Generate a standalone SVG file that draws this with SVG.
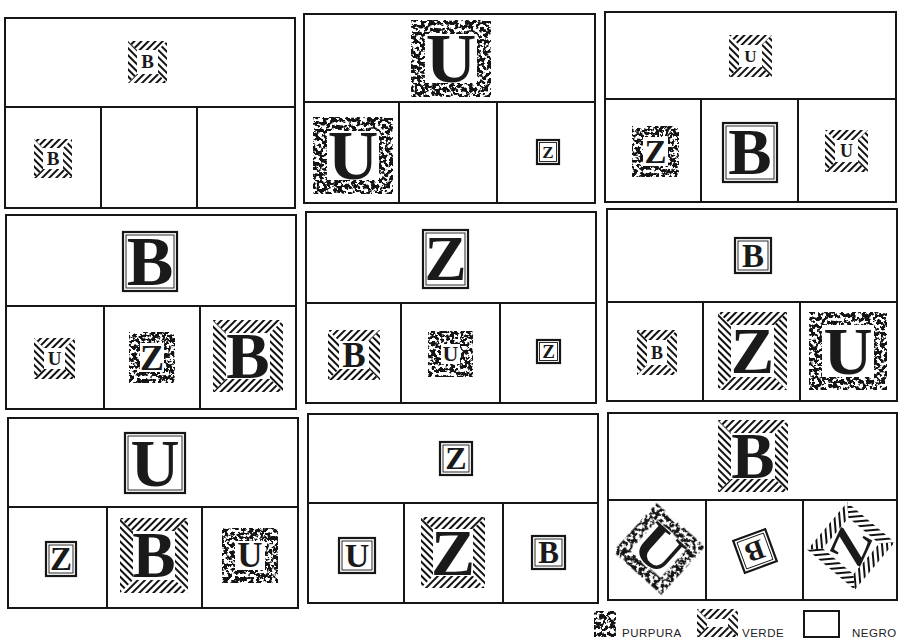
<svg xmlns="http://www.w3.org/2000/svg" width="900" height="641" viewBox="0 0 900 641">
<defs>
<pattern id="hA" width="5" height="5" patternUnits="userSpaceOnUse" patternTransform="rotate(45)"><rect width="2" height="5" fill="#111"/></pattern>
<pattern id="hB" width="5" height="5" patternUnits="userSpaceOnUse" patternTransform="rotate(-45)"><rect width="2" height="5" fill="#111"/></pattern>
<filter id="spk" x="-5%" y="-5%" width="110%" height="110%" color-interpolation-filters="sRGB">
<feTurbulence type="fractalNoise" baseFrequency="0.27" numOctaves="3" seed="7" result="n"/>
<feColorMatrix in="n" type="matrix" values="0 0 0 0 0.08  0 0 0 0 0.08  0 0 0 0 0.08  14 0 0 0 -6.3" result="t"/>
<feComposite in="t" in2="SourceGraphic" operator="in"/>
</filter>
</defs>
<style>
.pb{fill:none;stroke:#161616;stroke-width:2}
.ha{fill:url(#hA)}
.hb{fill:url(#hB)}
.pk{fill:#000;fill-rule:evenodd;filter:url(#spk)}
.ko{fill:#fff;stroke:#161616;stroke-width:2.2}
.ki{fill:none;stroke:#161616;stroke-width:0.9}
.L{font-family:'Liberation Serif','DejaVu Serif',serif;font-weight:bold;fill:#1a1a1a;text-anchor:middle}
.lg{font-family:'Liberation Sans','DejaVu Sans',sans-serif;font-size:11.5px;letter-spacing:0.5px;fill:#222}
</style>
<rect width="900" height="641" fill="#fff"/>

<g id="panels">
<g id="panel1"><rect class="pb" x="5" y="18" width="290" height="190"/><path class="pb" d="M5 107H295M101 107V208M197 107V208"/></g>
<g id="panel2"><rect class="pb" x="304" y="14" width="291" height="189"/><path class="pb" d="M304 102H595M399 102V203M497 102V203"/></g>
<g id="panel3"><rect class="pb" x="605" y="12" width="291" height="190"/><path class="pb" d="M605 99H896M701 99V202M798 99V202"/></g>
<g id="panel4"><rect class="pb" x="6" y="215" width="290" height="194"/><path class="pb" d="M6 306H296M104 306V409M200 306V409"/></g>
<g id="panel5"><rect class="pb" x="306" y="212" width="290" height="191"/><path class="pb" d="M306 303H596M401 303V403M500 303V403"/></g>
<g id="panel6"><rect class="pb" x="607" y="209" width="290" height="192"/><path class="pb" d="M607 302H897M703 302V401M800 302V401"/></g>
<g id="panel7"><rect class="pb" x="8" y="418" width="290" height="190"/><path class="pb" d="M8 507H298M107 507V608M202 507V608"/></g>
<g id="panel8"><rect class="pb" x="308" y="414" width="290" height="189"/><path class="pb" d="M308 503H598M404 503V603M503 503V603"/></g>
<g id="panel9"><rect class="pb" x="608" y="413" width="289" height="187"/><path class="pb" d="M608 500H897M706 500V600M803 500V600"/></g>
</g>

<!-- Panel 1 -->
<g id="p1-top" transform="translate(147.5,62)">
<polygon class="ha" points="-19.5,-21 19.5,-21 10.5,-12 -10.5,-12"/><polygon class="ha" points="-19.5,21 19.5,21 10.5,12 -10.5,12"/>
<polygon class="hb" points="-19.5,-21 -10.5,-12 -10.5,12 -19.5,21"/><polygon class="hb" points="19.5,-21 10.5,-12 10.5,12 19.5,21"/>
<text class="L" x="0" y="6.3" font-size="19">B</text></g>
<g id="p1-b1" transform="translate(53,158.5)">
<polygon class="ha" points="-19,-19.5 19,-19.5 10,-10.5 -10,-10.5"/><polygon class="ha" points="-19,19.5 19,19.5 10,10.5 -10,10.5"/>
<polygon class="hb" points="-19,-19.5 -10,-10.5 -10,10.5 -19,19.5"/><polygon class="hb" points="19,-19.5 10,-10.5 10,10.5 19,19.5"/>
<text class="L" x="0" y="6.3" font-size="19">B</text></g>

<!-- Panel 2 -->
<g id="p2-top" transform="translate(451,58.5)">
<path class="pk" d="M-40 -38.5H40V38.5H-40ZM-26 -24.5V24.5H26V-24.5Z"/>
<text class="L" x="0" y="23" font-size="70">U</text></g>
<g id="p2-b1" transform="translate(353,155.5)">
<path class="pk" d="M-40 -38.5H40V38.5H-40ZM-26 -24.5V24.5H26V-24.5Z"/>
<text class="L" x="0" y="23" font-size="70">U</text></g>
<g id="p2-b3" transform="translate(548,152)">
<rect class="ko" x="-11" y="-12" width="22" height="24"/><rect class="ki" x="-8.5" y="-9.5" width="17" height="19"/>
<text class="L" x="0" y="5.6" font-size="17">Z</text></g>

<!-- Panel 3 -->
<g id="p3-top" transform="translate(750.5,56)">
<polygon class="ha" points="-21.5,-21 21.5,-21 11.5,-11 -11.5,-11"/><polygon class="ha" points="-21.5,21 21.5,21 11.5,11 -11.5,11"/>
<polygon class="hb" points="-21.5,-21 -11.5,-11 -11.5,11 -21.5,21"/><polygon class="hb" points="21.5,-21 11.5,-11 11.5,11 21.5,21"/>
<text class="L" x="0" y="5.6" font-size="17">U</text></g>
<g id="p3-b1" transform="translate(655.5,151.5)">
<path class="pk" d="M-23.5 -25.5H23.5V25.5H-23.5ZM-12.5 -14.5V14.5H12.5V-14.5Z"/>
<text class="L" x="0" y="11" font-size="33">Z</text></g>
<g id="p3-b2" transform="translate(750,152.5)">
<rect class="ko" x="-27" y="-29.5" width="54" height="59"/><rect class="ki" x="-24" y="-26.5" width="48" height="53"/>
<text class="L" x="0" y="21.5" font-size="65">B</text></g>
<g id="p3-b3" transform="translate(846.5,151)">
<polygon class="ha" points="-21.5,-21 21.5,-21 11.5,-11 -11.5,-11"/><polygon class="ha" points="-21.5,21 21.5,21 11.5,11 -11.5,11"/>
<polygon class="hb" points="-21.5,-21 -11.5,-11 -11.5,11 -21.5,21"/><polygon class="hb" points="21.5,-21 11.5,-11 11.5,11 21.5,21"/>
<text class="L" x="0" y="6" font-size="18">U</text></g>

<!-- Panel 4 -->
<g id="p4-top" transform="translate(150,261.5)">
<rect class="ko" x="-27" y="-29.5" width="54" height="59"/><rect class="ki" x="-24" y="-26.5" width="48" height="53"/>
<text class="L" x="0" y="23" font-size="70">B</text></g>
<g id="p4-b1" transform="translate(54.5,358.5)">
<polygon class="ha" points="-20.5,-20.5 20.5,-20.5 10.5,-10.5 -10.5,-10.5"/><polygon class="ha" points="-20.5,20.5 20.5,20.5 10.5,10.5 -10.5,10.5"/>
<polygon class="hb" points="-20.5,-20.5 -10.5,-10.5 -10.5,10.5 -20.5,20.5"/><polygon class="hb" points="20.5,-20.5 10.5,-10.5 10.5,10.5 20.5,20.5"/>
<text class="L" x="0" y="6.3" font-size="19">U</text></g>
<g id="p4-b2" transform="translate(152,357.5)">
<path class="pk" d="M-23 -25.5H23V25.5H-23ZM-12 -14.5V14.5H12V-14.5Z"/>
<text class="L" x="0" y="12" font-size="36">Z</text></g>
<g id="p4-b3" transform="translate(248,356)">
<polygon class="ha" points="-35,-36 35,-36 22,-23 -22,-23"/><polygon class="ha" points="-35,36 35,36 22,23 -22,23"/>
<polygon class="hb" points="-35,-36 -22,-23 -22,23 -35,36"/><polygon class="hb" points="35,-36 22,-23 22,23 35,36"/>
<text class="L" x="0" y="21.5" font-size="65">B</text></g>

<!-- Panel 5 -->
<g id="p5-top" transform="translate(445.5,259)">
<rect class="ko" x="-22.5" y="-29" width="45" height="58"/><rect class="ki" x="-19.5" y="-26" width="39" height="52"/>
<text class="L" x="0" y="21" font-size="63">Z</text></g>
<g id="p5-b1" transform="translate(354,355)">
<polygon class="ha" points="-26,-25 26,-25 15,-14 -15,-14"/><polygon class="ha" points="-26,25 26,25 15,14 -15,14"/>
<polygon class="hb" points="-26,-25 -15,-14 -15,14 -26,25"/><polygon class="hb" points="26,-25 15,-14 15,14 26,25"/>
<text class="L" x="0" y="11.5" font-size="35">B</text></g>
<g id="p5-b2" transform="translate(450.5,354)">
<path class="pk" d="M-22.5 -23H22.5V23H-22.5ZM-9.5 -10V10H9.5V-10Z"/>
<text class="L" x="0" y="7.3" font-size="22">U</text></g>
<g id="p5-b3" transform="translate(548.5,351.5)">
<rect class="ko" x="-11.5" y="-11.5" width="23" height="23"/><rect class="ki" x="-9" y="-9" width="18" height="18"/>
<text class="L" x="0" y="6.2" font-size="19">Z</text></g>

<!-- Panel 6 -->
<g id="p6-top" transform="translate(753,255.5)">
<rect class="ko" x="-18" y="-17.5" width="36" height="35"/><rect class="ki" x="-15" y="-14.5" width="30" height="29"/>
<text class="L" x="0" y="11" font-size="33">B</text></g>
<g id="p6-b1" transform="translate(657,352.5)">
<polygon class="ha" points="-20,-22.5 20,-22.5 10,-12.5 -10,-12.5"/><polygon class="ha" points="-20,22.5 20,22.5 10,12.5 -10,12.5"/>
<polygon class="hb" points="-20,-22.5 -10,-12.5 -10,12.5 -20,22.5"/><polygon class="hb" points="20,-22.5 10,-12.5 10,12.5 20,22.5"/>
<text class="L" x="0" y="6" font-size="18">B</text></g>
<g id="p6-b2" transform="translate(752.5,351)">
<polygon class="ha" points="-34.5,-39 34.5,-39 21.5,-26 -21.5,-26"/><polygon class="ha" points="-34.5,39 34.5,39 21.5,26 -21.5,26"/>
<polygon class="hb" points="-34.5,-39 -21.5,-26 -21.5,26 -34.5,39"/><polygon class="hb" points="34.5,-39 21.5,-26 21.5,26 34.5,39"/>
<text class="L" x="0" y="21.5" font-size="65">Z</text></g>
<g id="p6-b3" transform="translate(848,351)">
<path class="pk" d="M-39 -39H39V39H-39ZM-26 -26V26H26V-26Z"/>
<text class="L" x="0" y="22.5" font-size="68">U</text></g>

<!-- Panel 7 -->
<g id="p7-top" transform="translate(155,463)">
<rect class="ko" x="-30" y="-30" width="60" height="60"/><rect class="ki" x="-27" y="-27" width="54" height="54"/>
<text class="L" x="0" y="22.5" font-size="68">U</text></g>
<g id="p7-b1" transform="translate(61,559)">
<rect class="ko" x="-15" y="-17" width="30" height="34"/><rect class="ki" x="-12" y="-14" width="24" height="28"/>
<text class="L" x="0" y="11" font-size="33">Z</text></g>
<g id="p7-b2" transform="translate(154,555.5)">
<polygon class="ha" points="-34,-37.5 34,-37.5 21,-24.5 -21,-24.5"/><polygon class="ha" points="-34,37.5 34,37.5 21,24.5 -21,24.5"/>
<polygon class="hb" points="-34,-37.5 -21,-24.5 -21,24.5 -34,37.5"/><polygon class="hb" points="34,-37.5 21,-24.5 21,24.5 34,37.5"/>
<text class="L" x="0" y="21.5" font-size="65">B</text></g>
<g id="p7-b3" transform="translate(250,555.5)">
<path class="pk" d="M-28 -27.5H28V27.5H-28ZM-15 -14.5V14.5H15V-14.5Z"/>
<text class="L" x="0" y="11.5" font-size="35">U</text></g>

<!-- Panel 8 -->
<g id="p8-top" transform="translate(456,458.5)">
<rect class="ko" x="-16" y="-16.5" width="32" height="33"/><rect class="ki" x="-13" y="-13.5" width="26" height="27"/>
<text class="L" x="0" y="10.6" font-size="32">Z</text></g>
<g id="p8-b1" transform="translate(357,555.5)">
<rect class="ko" x="-18" y="-17.5" width="36" height="35"/><rect class="ki" x="-15" y="-14.5" width="30" height="29"/>
<text class="L" x="0" y="11.2" font-size="34">U</text></g>
<g id="p8-b2" transform="translate(453,552.5)">
<polygon class="ha" points="-32,-35.5 32,-35.5 20,-23.5 -20,-23.5"/><polygon class="ha" points="-32,35.5 32,35.5 20,23.5 -20,23.5"/>
<polygon class="hb" points="-32,-35.5 -20,-23.5 -20,23.5 -32,35.5"/><polygon class="hb" points="32,-35.5 20,-23.5 20,23.5 32,35.5"/>
<text class="L" x="0" y="22" font-size="66">Z</text></g>
<g id="p8-b3" transform="translate(548.5,552.5)">
<rect class="ko" x="-16.5" y="-16.5" width="33" height="33"/><rect class="ki" x="-13.5" y="-13.5" width="27" height="27"/>
<text class="L" x="0" y="10.3" font-size="31">B</text></g>

<!-- Panel 9 -->
<g id="p9-top" transform="translate(753,456)">
<polygon class="ha" points="-35,-36 35,-36 22,-23 -22,-23"/><polygon class="ha" points="-35,36 35,36 22,23 -22,23"/>
<polygon class="hb" points="-35,-36 -22,-23 -22,23 -35,36"/><polygon class="hb" points="35,-36 22,-23 22,23 35,36"/>
<text class="L" x="0" y="21.5" font-size="65">B</text></g>
<g id="p9-b1" transform="translate(659,549) rotate(42)">
<path class="pk" d="M-32.5 -32.5H32.5V32.5H-32.5ZM-20.5 -20.5V20.5H20.5V-20.5Z"/>
<text class="L" x="0" y="19.5" font-size="60">U</text></g>
<g id="p9-b2" transform="translate(755,551) rotate(160)">
<rect class="ko" x="-17" y="-17" width="34" height="34"/><rect class="ki" x="-14" y="-14" width="28" height="28"/>
<text class="L" x="0" y="9.3" font-size="28">B</text></g>
<g id="p9-b3" transform="translate(851,546) rotate(40)">
<polygon class="ha" points="-31,-31 31,-31 20,-20 -20,-20"/><polygon class="ha" points="-31,31 31,31 20,20 -20,20"/>
<polygon class="hb" points="-31,-31 -20,-20 -20,20 -31,31"/><polygon class="hb" points="31,-31 20,-20 20,20 31,31"/>
<text class="L" x="0" y="17" font-size="52" transform="rotate(-105)">Z</text></g>

<!-- Legend -->
<g id="legend">
<g id="leg-purpura"><rect class="pk" x="594" y="611" width="22" height="26"/><text class="lg" x="622" y="637">PURPURA</text></g>
<g id="leg-verde" transform="translate(717.5,623)">
<polygon class="ha" points="-20.5,-14 20.5,-14 10.5,-4 -10.5,-4"/><polygon class="ha" points="-20.5,14 20.5,14 10.5,4 -10.5,4"/>
<polygon class="hb" points="-20.5,-14 -10.5,-4 -10.5,4 -20.5,14"/><polygon class="hb" points="20.5,-14 10.5,-4 10.5,4 20.5,14"/>
</g>
<text class="lg" x="742" y="637">VERDE</text>
<g id="leg-negro"><rect x="804" y="611" width="35" height="26" fill="none" stroke="#161616" stroke-width="2"/><text class="lg" x="852" y="637">NEGRO</text></g>
</g>
</svg>
